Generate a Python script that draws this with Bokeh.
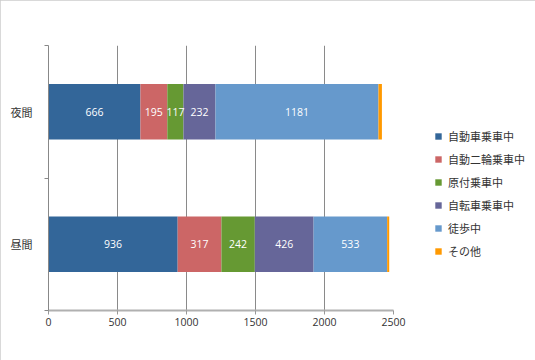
import numpy as np
from bokeh.plotting import figure
from bokeh.models import (ColumnDataSource, Range1d, FixedTicker, Legend, LegendItem)
from bokeh.core.properties import value
from bokeh.embed import file_html
from bokeh.resources import INLINE

categories = ["昼間", "夜間"]          # bottom to top
series = ["自動車乗車中", "自動二輪乗車中", "原付乗車中", "自転車乗車中", "徒歩中", "その他"]
car = [936, 666]
moto = [317, 195]
moped = [242, 117]
bicycle = [426, 232]
walk = [533, 1181]
other = [15, 25]
colors = ["#336699", "#cc6666", "#669933", "#666699", "#6699cc", "#ff9900"]
x_ticks = [0, 500, 1000, 1500, 2000, 2500]

JP = "Noto Sans CJK JP"
NUM = "Open Sans"

ypos = [i + 0.5 for i in range(len(categories))]
cols = [car, moto, moped, bicycle, walk, other]
data = {"y": ypos}
for name, vals in zip(series, cols):
    data[name] = vals
src = ColumnDataSource(data)

p = figure(width=535, height=360, output_backend="svg", toolbar_location=None,
           x_range=Range1d(0, 2500), y_range=Range1d(0, len(categories)),
           frame_width=345, frame_height=265,
           min_border_left=48, min_border_right=142, min_border_top=45, min_border_bottom=50)
p.styles = {"outline": "1px solid #cccccc", "outline-offset": "-1px"}
p.outline_line_color = None
p.background_fill_color = "white"

renderers = p.hbar_stack(series, y="y", height=0.42, color=colors, source=src, line_color=None)

# data labels (all but "その他")
arr = np.array(cols, dtype=float)
cum = np.cumsum(arr, axis=0)
starts = cum - arr
lx, ly, lt = [], [], []
for si in range(len(series) - 1):
    for ci in range(len(categories)):
        lx.append(starts[si, ci] + arr[si, ci] / 2)
        ly.append(ypos[ci])
        lt.append(str(int(arr[si, ci])))
p.text(x=lx, y=ly, text=lt, text_align="center", text_baseline="middle",
       text_color="white", text_font=value(NUM), text_font_size="10.5px")

# x axis
xa = p.xaxis[0]
xa.ticker = FixedTicker(ticks=x_ticks)
xa.axis_line_color = "#b0b0b0"
xa.axis_line_width = 2
xa.major_tick_line_color = "#999999"
xa.major_tick_in = 0
xa.major_tick_out = 4
xa.minor_tick_line_color = None
xa.major_label_text_font = NUM
xa.major_label_text_font_size = "10.5px"
xa.major_label_text_color = "#333333"
xa.major_label_standoff = 3

# y axis
ya = p.yaxis[0]
ya.ticker = FixedTicker(ticks=ypos, minor_ticks=[0, 1, 2])
ya.major_label_overrides = {y: c for y, c in zip(ypos, categories)}
ya.axis_line_color = "#888888"
ya.major_tick_line_color = None
ya.minor_tick_line_color = "#888888"
ya.minor_tick_in = 0
ya.minor_tick_out = 4
ya.major_label_text_font = JP
ya.major_label_text_font_size = "11px"
ya.major_label_text_color = "#333333"
ya.major_label_standoff = 10

p.xgrid.ticker = FixedTicker(ticks=x_ticks)
p.xgrid.grid_line_color = "#8a8a8a"
p.ygrid.grid_line_color = None

legend = Legend(items=[LegendItem(label=s, renderers=[r]) for s, r in zip(series, renderers)],
                location=(41, 49), orientation="vertical",
                glyph_width=8, glyph_height=8, label_standoff=6, spacing=3,
                label_height=20, padding=0, margin=0,
                border_line_color=None, background_fill_alpha=0,
                label_text_font=JP, label_text_font_size="11px", label_text_color="#333333")
p.add_layout(legend, "right")

open("out.html", "w").write(file_html(p, INLINE))
